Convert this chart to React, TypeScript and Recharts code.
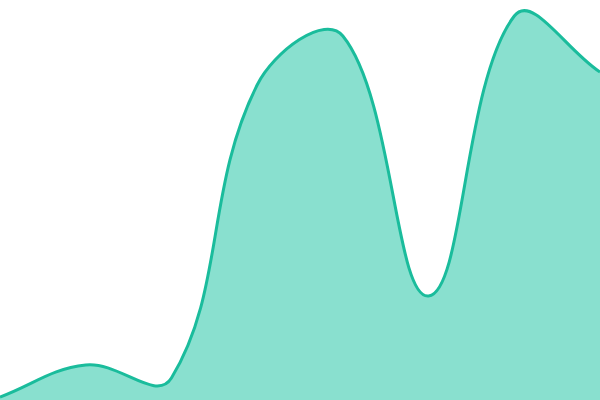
import React from 'react';
import { AreaChart, Area, XAxis, YAxis } from 'recharts';

const labels = ['A', 'B', 'C', 'D', 'E', 'F', 'G', 'H'];
const values = [3, 35, 22, 315, 364, 104, 384, 328];

const data = labels.map((name, i) => ({ name, value: values[i] }));

// spline with tension, control points scaled by distance to neighbours
const tensionCurve = (tension: number) => (context: any) => {
  let pts: [number, number][] = [];
  let line = NaN;

  const controls = (p0: number[], p1: number[], p2: number[]) => {
    const d01 = Math.hypot(p1[0] - p0[0], p1[1] - p0[1]);
    const d12 = Math.hypot(p2[0] - p1[0], p2[1] - p1[1]);
    const sum = d01 + d12 || 1;
    const fa = (tension * d01) / sum;
    const fb = (tension * d12) / sum;
    const dx = p2[0] - p0[0];
    const dy = p2[1] - p0[1];
    return {
      prev: [p1[0] - fa * dx, p1[1] - fa * dy],
      next: [p1[0] + fb * dx, p1[1] + fb * dy],
    };
  };

  return {
    areaStart() { line = 0; },
    areaEnd() { line = NaN; },
    lineStart() { pts = []; },
    lineEnd() {
      const n = pts.length;
      if (n > 0) {
        if (line) context.lineTo(pts[0][0], pts[0][1]);
        else context.moveTo(pts[0][0], pts[0][1]);
        const cps = pts.map((p, i) => controls(pts[i - 1] || p, p, pts[i + 1] || p));
        for (let i = 0; i < n - 1; i++) {
          const a = cps[i].next;
          const b = cps[i + 1].prev;
          context.bezierCurveTo(a[0], a[1], b[0], b[1], pts[i + 1][0], pts[i + 1][1]);
        }
      }
      if (line || (line !== 0 && n === 1)) context.closePath();
      line = 1 - line;
    },
    point(x: number, y: number) { pts.push([+x, +y]); },
  };
};

const curve = tensionCurve(0.4);

const App: React.FC = () => {
  return (
    <div style={{ position: 'fixed', top: 0, left: 0, width: 600, height: 400, background: '#fff' }}>
      <AreaChart width={600} height={400} data={data} margin={{ top: 0, right: 0, bottom: 0, left: 0 }}>
        <XAxis dataKey="name" hide />
        <YAxis hide domain={[0, 400]} />
        <Area
          type={curve as any}
          dataKey="value"
          stroke="#1abc9c"
          strokeWidth={3}
          fill="#89e0cf"
          fillOpacity={1}
          activeDot={false}
          isAnimationActive={false}
        />
      </AreaChart>
    </div>
  );
};

export default App;
